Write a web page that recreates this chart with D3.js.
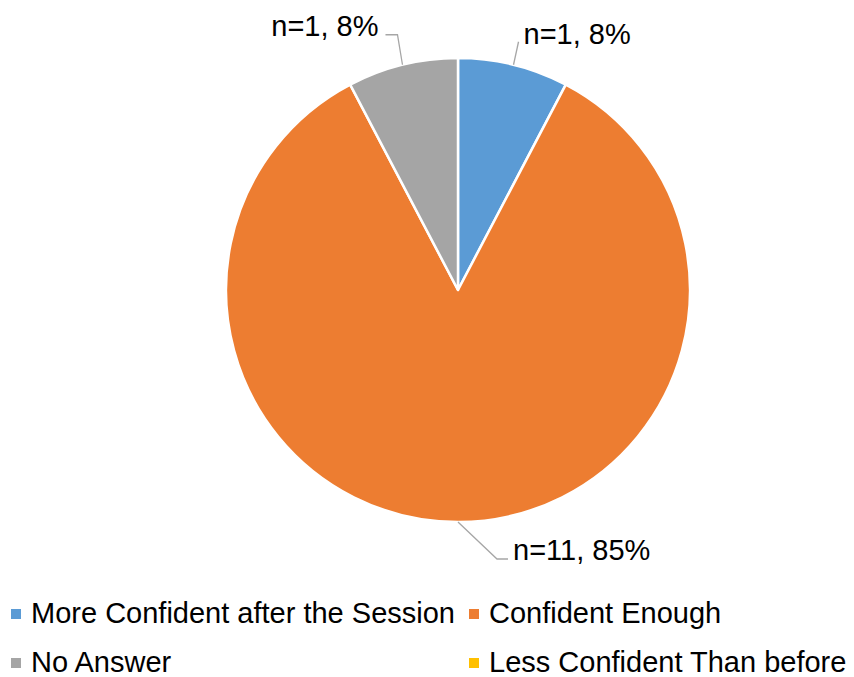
<!DOCTYPE html>
<html>
<head>
<meta charset="utf-8">
<script src="https://cdn.jsdelivr.net/npm/d3@7/dist/d3.min.js"></script>
<style>
  html, body { margin: 0; padding: 0; background: #fff; }
  svg { display: block; font-family: "Liberation Sans", Arial, sans-serif; }
</style>
</head>
<body>
<svg id="chart" width="854" height="677"></svg>
<script>
// Survey responses: confidence after the session
const categories = ["More Confident after the Session", "Confident Enough", "No Answer", "Less Confident Than before"];
const counts = [1, 11, 1, 0];
const colors = ["#5B9BD5", "#ED7D31", "#A5A5A5", "#FFC000"];

const svg = d3.select("#chart");
const cx = 458, cy = 290, R = 232;
const fontSize = 29;

const total = d3.sum(counts);
const data = categories.map((c, i) => ({ name: c, value: counts[i], color: colors[i] }));

const pie = d3.pie().value(d => d.value).sort(null);
const arcs = pie(data);
const arc = d3.arc().innerRadius(0).outerRadius(R);

const g = svg.append("g").attr("transform", `translate(${cx},${cy})`);

g.selectAll("path.slice")
  .data(arcs.filter(d => d.value > 0))
  .join("path")
  .attr("class", "slice")
  .attr("d", arc)
  .attr("fill", d => d.data.color)
  .attr("stroke", "#fff")
  .attr("stroke-width", 2.5)
  .attr("stroke-linejoin", "round");

// Data labels with leader lines: elbow offset relative to the arc edge point,
// and which side of the elbow the text sits on.
const labelLayout = {
  "More Confident after the Session": { elbow: [5, -23], tail: 0, anchor: "start", dx: 5, dy: 2 },
  "Confident Enough": { elbow: [39, 37], tail: 11, anchor: "start", dx: 5, dy: 1 },
  "No Answer": { elbow: [-5, -30], tail: -12, anchor: "end", dx: -7, dy: 1 }
};

const pct = d3.format(".0%");
arcs.filter(d => d.value > 0).forEach(d => {
  const L = labelLayout[d.data.name];
  const a = (d.startAngle + d.endAngle) / 2;
  const p0 = [R * Math.sin(a), -R * Math.cos(a)];
  const p1 = [p0[0] + L.elbow[0], p0[1] + L.elbow[1]];
  const p2 = [p1[0] + L.tail, p1[1]];
  g.append("polyline")
    .attr("points", [p0, p1, p2].map(p => p.join(",")).join(" "))
    .attr("fill", "none")
    .attr("stroke", "#A6A6A6")
    .attr("stroke-width", 1.3);
  g.append("text")
    .attr("x", p2[0] + L.dx)
    .attr("y", p2[1] + L.dy)
    .attr("text-anchor", L.anchor)
    .attr("font-size", fontSize)
    .attr("fill", "#000")
    .text(`n=${d.value}, ${pct(d.value / total)}`);
});

// Legend: two columns, two rows
const legendCols = [11, 469];
const legendRows = [623, 672];
const legend = svg.append("g");
data.forEach((d, i) => {
  const x = legendCols[i % 2];
  const y = legendRows[Math.floor(i / 2)];
  legend.append("rect")
    .attr("x", x).attr("y", y - 14)
    .attr("width", 10).attr("height", 10)
    .attr("fill", d.color);
  legend.append("text")
    .attr("x", x + 20).attr("y", y)
    .attr("font-size", fontSize)
    .attr("fill", "#000")
    .text(d.name);
});
</script>
</body>
</html>
